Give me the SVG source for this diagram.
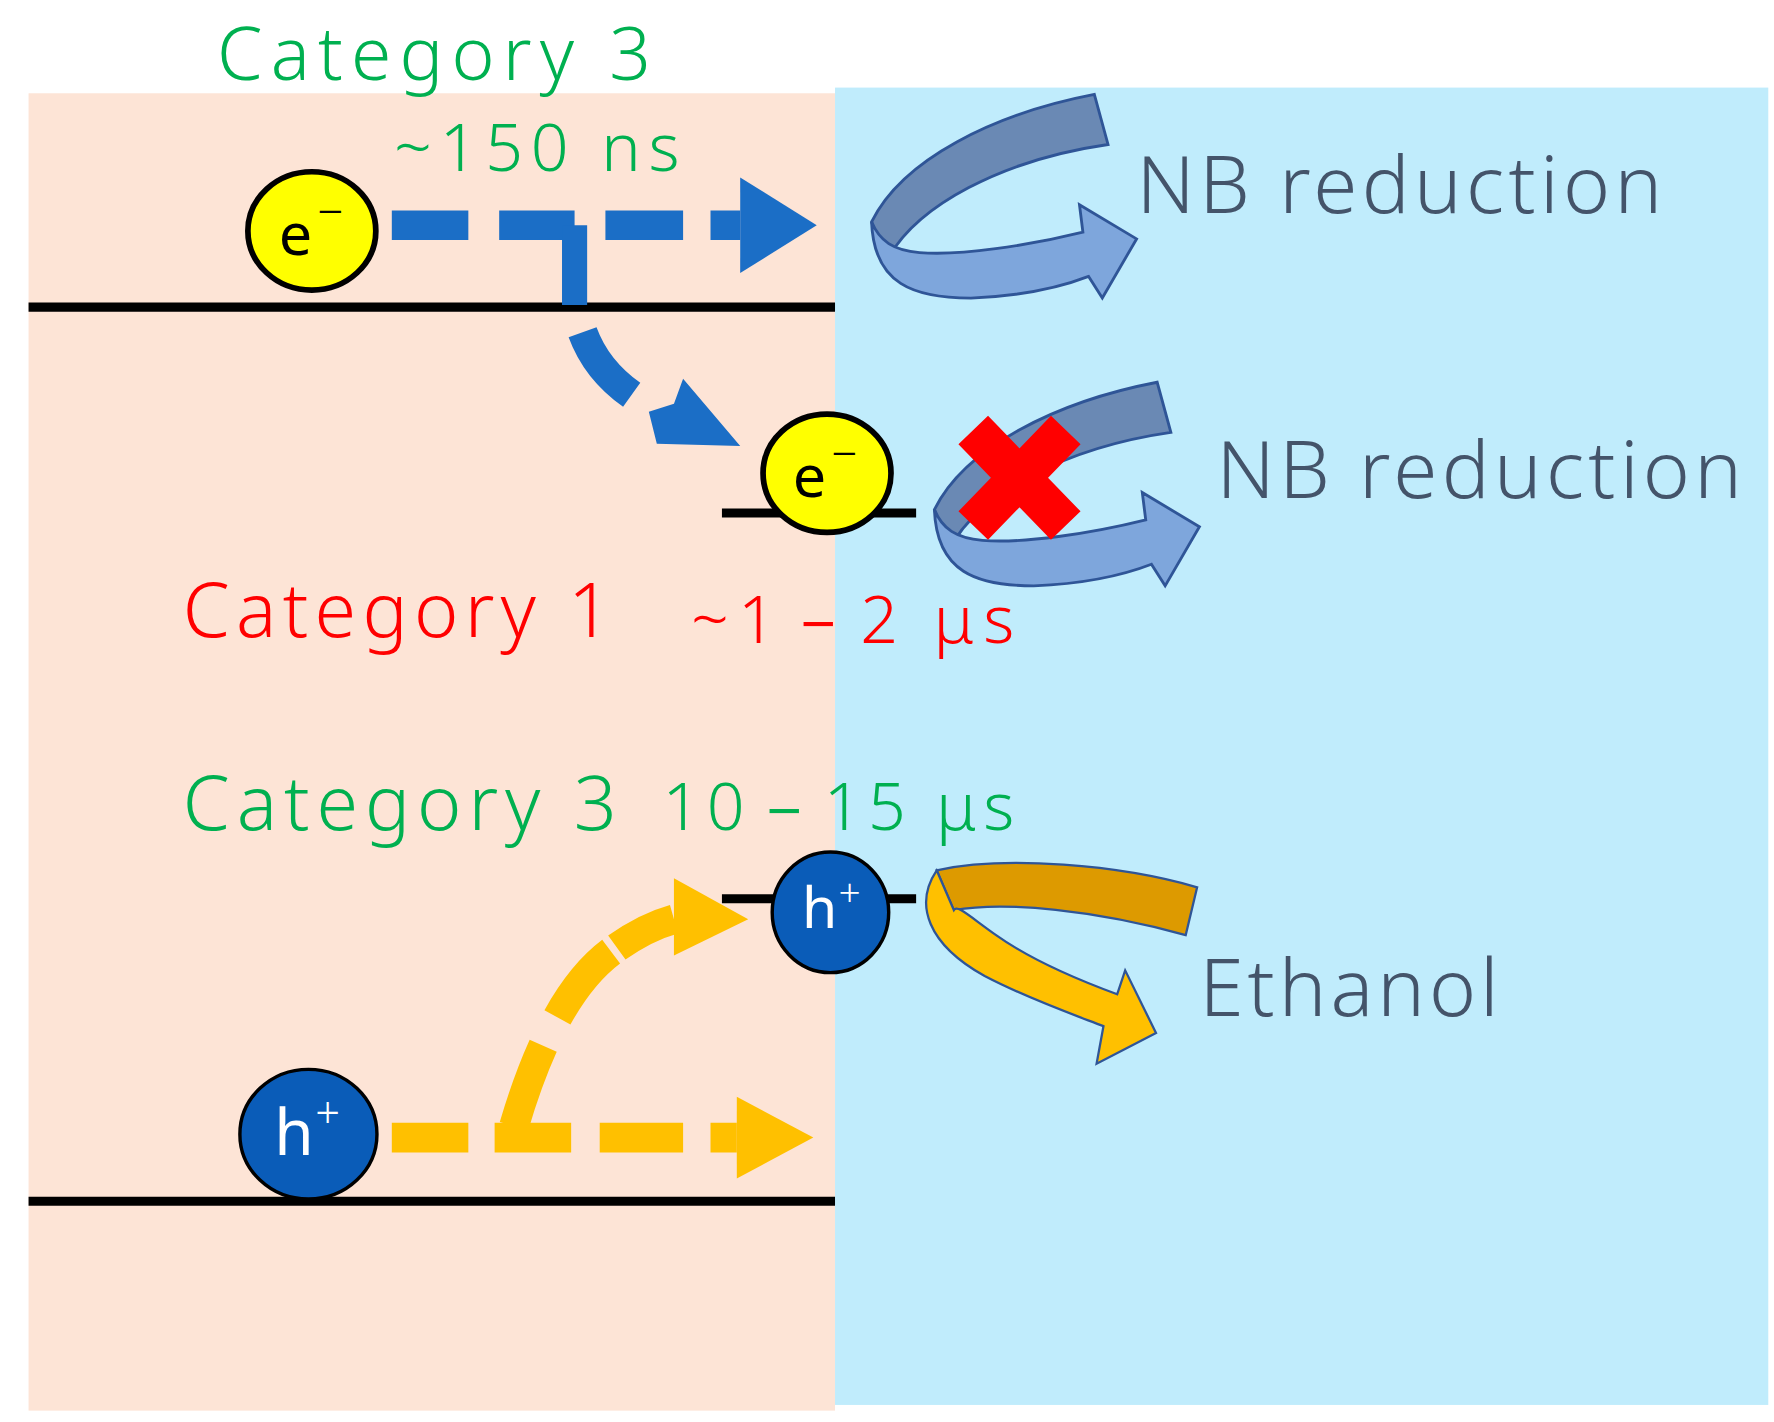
<svg xmlns="http://www.w3.org/2000/svg" width="1774" height="1422" viewBox="0 0 1774 1422">
<style>
text{font-family:"Noto Sans","Liberation Sans",sans-serif;font-weight:300}
.g{fill:#00b050}.r{fill:#ff0000}.s{fill:#44546a}
.ln{stroke:#000;stroke-width:8}
.bd{fill:none;stroke:#1b6ec6;stroke-width:26}
.yd{fill:none;stroke:#ffc000;stroke-width:26}
.ey{fill:#ffff00;stroke:#000;stroke-width:5}
.hb{fill:#0a5cb8;stroke:#000;stroke-width:3}
.dk{fill:#6a89b4;stroke:#2f5597;stroke-width:2.5}
.lt{fill:#7ea6dc;stroke:#2f5597;stroke-width:2.5}
</style>
<rect width="1774" height="1422" fill="#fff"/>
<g transform="scale(1.1423 1.1376)">
<g id="background">
<rect x="25" y="82" width="706" height="1158" fill="#fde4d6"/>
<rect x="731" y="77" width="817" height="1158" fill="#c0ecfc"/>
<line class="ln" x1="25" y1="270" x2="731" y2="270"/>
<line class="ln" x1="25" y1="1056" x2="731" y2="1056"/>
<line class="ln" x1="632" y1="451" x2="802" y2="451"/>
<line class="ln" x1="632" y1="790" x2="802" y2="790"/>
</g>
<g id="connectors">
<path class="bd" d="M343 198H410M437 198H503M530 198H598M622 198H648"/>
<polygon fill="#1b6ec6" points="648,156 715,198 648,240"/>
<path fill="none" stroke="#1b6ec6" stroke-width="22" d="M503 198V268"/>
<path class="bd" d="M510 292Q522 325 553 347" />
<polygon fill="#1b6ec6" points="568,362 575,390 648,392 598,333 590,355"/>
<path class="yd" d="M343 1000H410M433 1000H500M525 1000H598M622 1000H645"/>
<polygon fill="#ffc000" points="645,964 712,1000 645,1036"/>
<path class="yd" stroke-dasharray="75 28" d="M450 990Q485 870 540 833"/>
<path class="yd" d="M540 833Q565 815 590 808"/>
<polygon fill="#ffc000" points="590,772 655,808 590,840"/>
</g>
<g id="curl1">
<path class="dk" d="M958 83L970 127C880 140 800 180 775 232L763 195C790 140 870 100 958 83Z"/>
<path class="lt" d="M763 195C765 250 800 262 850 262C900 260 935 250 953 243L965 262L995 210L945 180L948 204C900 216 840 225 805 222C782 220 770 212 763 195Z"/>
</g>
<g id="curl2" transform="translate(55 253)">
<path class="dk" d="M958 83L970 127C880 140 800 180 775 232L763 195C790 140 870 100 958 83Z"/>
<path class="lt" d="M763 195C765 250 800 262 850 262C900 260 935 250 953 243L965 262L995 210L945 180L948 204C900 216 840 225 805 222C782 220 770 212 763 195Z"/>
</g>
<g id="curl3">
<path fill="#dd9a00" stroke="#2f5597" stroke-width="2" d="M1048 780L1038 822C960 800 880 792 835 800L820 765C880 752 980 760 1048 780Z"/>
<path fill="#ffc000" stroke="#2f5597" stroke-width="2" d="M820 765C800 795 812 830 862 858C900 878 940 892 966 902L960 935L1012 908L985 853L978 874C940 860 900 842 872 822C848 805 838 795 835 800Z"/>
</g>
<g id="cross">
<path stroke="#ff0000" stroke-width="36" d="M852 378L933 462M933 378L852 462"/>
</g>
<g id="e1"><ellipse class="ey" cx="273" cy="203" rx="56" ry="52"/><text x="244" y="224" font-size="52" style="font-weight:400">e</text><text x="278" y="200" font-size="40">−</text></g>
<g id="e2"><ellipse class="ey" cx="724" cy="416" rx="56" ry="52"/><text x="694" y="437" font-size="52" style="font-weight:400">e</text><text x="728" y="413" font-size="40">−</text></g>
<g id="h1"><ellipse class="hb" cx="727" cy="802" rx="51" ry="53"/><text x="702" y="816" font-size="50" fill="#fff" style="font-weight:400">h</text><text x="734" y="797" font-size="34" fill="#fff">+</text></g>
<g id="h2"><ellipse class="hb" cx="270" cy="997" rx="60" ry="57"/><text x="240" y="1015" font-size="56" fill="#fff" style="font-weight:400">h</text><text x="276" y="992" font-size="38" fill="#fff">+</text></g>
<g id="labels">
<text class="g" x="190" y="70" font-size="64" textLength="380">Category 3</text>
<text class="g" x="345" y="150" font-size="58" textLength="250">~150 ns</text>
<text class="s" x="995" y="187" font-size="70" textLength="460">NB reduction</text>
<text class="s" x="1065" y="438" font-size="70" textLength="460">NB reduction</text>
<text class="r" x="160" y="560" font-size="66" textLength="375">Category 1</text>
<text class="r" x="605" y="565" font-size="58" textLength="283">~1－2 μs</text>
<text class="g" x="160" y="730" font-size="66" textLength="380">Category 3</text>
<text class="g" x="580" y="730" font-size="58" textLength="308">10－15 μs</text>
<text class="s" x="1050" y="893" font-size="70" textLength="262">Ethanol</text>
</g>
</g>
</svg>
